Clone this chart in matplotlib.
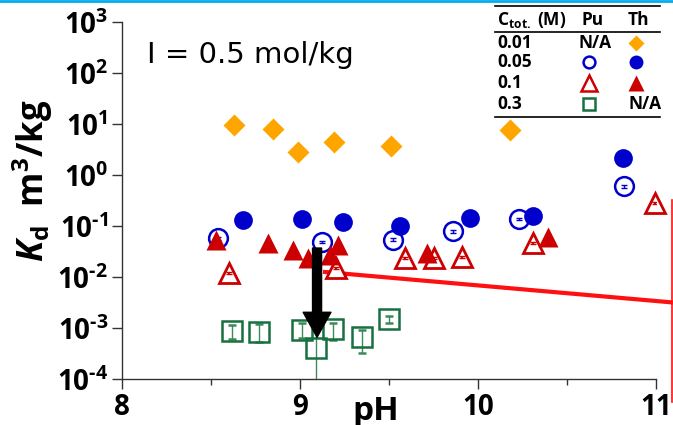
import numpy as np
import matplotlib
matplotlib.use("Agg")
import matplotlib.pyplot as plt
from matplotlib.lines import Line2D
from matplotlib.ticker import FuncFormatter, NullLocator

plt.rcParams['font.family'] = ['Open Sans', 'DejaVu Sans']
plt.rcParams['mathtext.fontset'] = 'custom'
plt.rcParams['mathtext.rm'] = 'Open Sans:bold'
plt.rcParams['mathtext.bf'] = 'Open Sans:bold'
plt.rcParams['mathtext.it'] = 'Open Sans:italic:bold'
plt.rcParams['axes.unicode_minus'] = False

# Th, C_tot = 0.01 M
th001_ph = [8.63, 8.85, 8.99, 9.19, 9.51, 10.18]
th001_kd = [9.6, 8.0, 2.8, 4.4, 3.7, 7.6]

# Th, C_tot = 0.05 M
th005_ph = [8.68, 9.01, 9.24, 9.56, 9.955, 10.31, 10.815]
th005_kd = [0.132, 0.138, 0.12, 0.10, 0.145, 0.158, 2.14]

# Pu, C_tot = 0.05 M
pu005_ph = [8.54, 9.12, 9.52, 9.86, 10.23, 10.82]
pu005_kd = [0.0575, 0.049, 0.054, 0.079, 0.138, 0.60]

# Th, C_tot = 0.1 M
th01_ph = [8.53, 8.82, 8.96, 9.045, 9.17, 9.21, 9.71, 10.39]
th01_kd = [0.054, 0.047, 0.034, 0.0236, 0.027, 0.043, 0.0295, 0.060]

# Pu, C_tot = 0.1 M
pu01_ph = [8.60, 9.20, 9.59, 9.75, 9.91, 10.31, 10.99]
pu01_kd = [0.012, 0.015, 0.0234, 0.0234, 0.0245, 0.047, 0.28]

# Pu, C_tot = 0.3 M (with error bar limits)
pu03_ph = [8.62, 8.77, 9.01, 9.09, 9.185, 9.35, 9.50]
pu03_kd = [8.7e-4, 8.3e-4, 9.1e-4, 4.1e-4, 9.5e-4, 6.6e-4, 1.5e-3]
pu03_lo = [6.0e-4, 5.4e-4, 6.3e-4, 1e-5, 5.8e-4, 3.2e-4, 1.26e-3]
pu03_hi = [1.15e-3, 1.2e-3, 1.26e-3, 9.1e-4, 1.26e-3, 9.1e-4, 1.74e-3]

# red model line and arrow
line_ph = [9.14, 11.1]
line_kd = [10**-1.90, 10**-2.50]
arrow_ph = 9.095
arrow_from = 10**-1.43
arrow_to = 10**-3.18

orange = '#FFA500'
blue = '#0000CC'
red = '#CC0000'
green = '#17703F'

fig = plt.figure(figsize=(6.73, 4.25), dpi=100)
ax = fig.add_axes([0.1813, 0.108, 0.794, 0.840])

# Pu open markers first, small error bars drawn over the white faces
pu005_kd = np.array(pu005_kd)
ax.plot(pu005_ph, pu005_kd, 'o', ms=13.5, mfc='white', mec=blue, mew=1.8,
        zorder=3, clip_on=False)
ax.errorbar(pu005_ph, pu005_kd, yerr=0.06 * pu005_kd, fmt='none',
            ecolor=blue, elinewidth=1, capsize=2.5, zorder=3.1)
pu01_kd = np.array(pu01_kd)
ax.plot(pu01_ph, pu01_kd, '^', ms=15, mfc='white', mec=red, mew=2,
        zorder=3, clip_on=False)
ax.errorbar(pu01_ph, pu01_kd, yerr=0.05 * pu01_kd, fmt='none',
            ecolor=red, elinewidth=1.5, capsize=2.5, zorder=3.1)

pu03_kd = np.array(pu03_kd)
yerr = [pu03_kd - np.array(pu03_lo), np.array(pu03_hi) - pu03_kd]
ax.errorbar(pu03_ph, pu03_kd, yerr=yerr, fmt='s', ms=14.5,
            mfc='none', mec=green, mew=1.8, ecolor='#3c8a5c', elinewidth=1,
            capsize=3, zorder=3)

# Th filled markers on top
ax.plot(th001_ph, th001_kd, 'D', ms=11, color=orange, mec='none', zorder=4)
ax.plot(th005_ph, th005_kd, 'o', ms=13.5, color=blue, mec='none', zorder=4)
ax.plot(th01_ph, th01_kd, '^', ms=15, color=red, mec='none', zorder=4)

ax.plot(line_ph, line_kd, color='#FF1010', lw=3, clip_on=False, zorder=2)
ax.plot([11.09, 11.09], [10**-0.49, 10**-4.45], color='#FF1010', lw=1.2,
        clip_on=False, zorder=2)

ax.annotate('', xy=(arrow_ph, arrow_to), xytext=(arrow_ph, arrow_from),
            arrowprops=dict(width=6.5, headwidth=20, headlength=18,
                            color='black', shrink=0), zorder=6)

ax.set_yscale('log')
ax.set_ylim(1e-4, 1e3)
ax.set_xlim(8, 11)
ax.set_yticks([10.0**k for k in range(-4, 4)])
ax.yaxis.set_minor_locator(NullLocator())


def log_fmt(v, pos):
    e = int(round(np.log10(v)))
    if e < 0:
        return r'$\mathregular{10^{\text{-}%d}}$' % (-e)
    return r'$\mathregular{10^{%d}}$' % e


ax.yaxis.set_major_formatter(FuncFormatter(log_fmt))
ax.set_xticks([8, 9, 10, 11])
ax.set_xticks([8.5, 9.5, 10.5], minor=True)
ax.tick_params(axis='both', which='major', labelsize=20, length=7, width=1,
               pad=3, color='#333333')
ax.tick_params(axis='x', which='minor', length=4, width=1, color='#333333')
for lab in ax.get_xticklabels() + ax.get_yticklabels():
    lab.set_fontweight('bold')

for s in ['top', 'right']:
    ax.spines[s].set_visible(False)
for s in ['left', 'bottom']:
    ax.spines[s].set_color('#333333')
    ax.spines[s].set_linewidth(1)

ax.set_ylabel(r'$K_{\mathrm{d}}$  m$^{3}$/kg', fontsize=25, fontweight='bold',
              va='center')
ax.yaxis.set_label_coords(-0.167, 0.555)
ax.set_xlabel('pH', fontsize=24, fontweight='bold')
ax.xaxis.set_label_coords(0.474, -0.045)

ax.text(0.047, 0.885, 'I = 0.5 mol/kg', transform=ax.transAxes,
        fontsize=21, family='DejaVu Sans', va='baseline', ha='left')

# table legend in the upper right
tr = ax.transAxes
for yy in [1.045, 0.972, 0.734]:
    ax.plot([0.6985, 1.0075], [yy, yy], color='black', lw=1.2,
            transform=tr, clip_on=False)
tfs = 12.5
ax.text(0.702, 1.006, r'C$_{\mathrm{tot.}}$ (M)', transform=tr, fontsize=tfs,
        fontweight='bold', va='center', ha='left')
ax.text(0.880, 1.006, 'Pu', transform=tr, fontsize=tfs, fontweight='bold',
        va='center', ha='center')
ax.text(0.966, 1.006, 'Th', transform=tr, fontsize=tfs, fontweight='bold',
        va='center', ha='center')
rows = ['0.01', '0.05', '0.1', '0.3']
row_y = [0.941, 0.888, 0.829, 0.770]
for r, yy in zip(rows, row_y):
    ax.text(0.702, yy, r, transform=tr, fontsize=tfs, fontweight='bold',
            va='center', ha='left')
ax.text(0.886, row_y[0], 'N/A', transform=tr, fontsize=tfs, fontweight='bold',
        va='center', ha='center')
ax.text(0.978, row_y[3], 'N/A', transform=tr, fontsize=tfs, fontweight='bold',
        va='center', ha='center')
px, tx = 0.873, 0.9625
ax.plot(tx, row_y[0], 'D', ms=8.5, color=orange, mec='none', transform=tr, clip_on=False)
ax.plot(px, row_y[1], 'o', ms=8.5, mfc='white', mec=blue, mew=1.8, transform=tr, clip_on=False)
ax.plot(tx, row_y[1], 'o', ms=10, color=blue, mec='none', transform=tr, clip_on=False)
ax.plot(px, row_y[2], '^', ms=11, mfc='white', mec=red, mew=1.8, transform=tr, clip_on=False)
ax.plot(tx, row_y[2], '^', ms=11, color=red, mec='none', transform=tr, clip_on=False)
ax.plot(px, row_y[3], 's', ms=9, mfc='white', mec=green, mew=1.8, transform=tr, clip_on=False)

fig.add_artist(Line2D([0, 1], [0.998, 0.998], transform=fig.transFigure,
                      color='#00AEEF', lw=2))

fig.savefig('out.png', dpi=100)
